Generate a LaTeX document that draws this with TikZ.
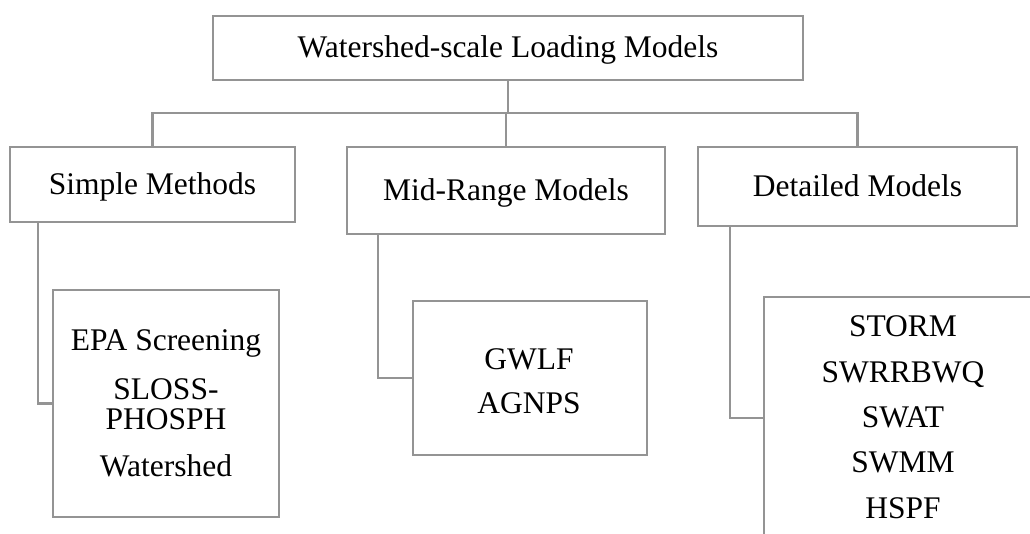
\documentclass[tikz,border=0pt]{standalone}
\usepackage{fontspec}
\setmainfont{Liberation Serif}
\definecolor{lg}{RGB}{148,148,148}
\begin{document}
\begin{tikzpicture}[x=1pt,y=-1pt,
  box/.style={draw=lg,line width=2.2pt,rectangle,inner sep=0pt,fill=white},
  lbl/.style={anchor=base,inner sep=0pt,font=\fontsize{31.5}{36}\selectfont},
  link/.style={draw=lg,line width=2.2pt}]
\useasboundingbox (0,0) rectangle (1030,534);
\clip (0,0) rectangle (1030,534);
% boxes
\node[box,minimum width=590pt,minimum height=64pt] (top) at (508,48) {};
\node[box,minimum width=285pt,minimum height=75pt] (simple) at (152.5,184.5) {};
\node[box,minimum width=318pt,minimum height=87pt] (mid) at (506,190.5) {};
\node[box,minimum width=319pt,minimum height=79pt] (det) at (857.5,186.5) {};
\node[box,minimum width=226pt,minimum height=227pt] (slist) at (166,403.5) {};
\node[box,minimum width=234pt,minimum height=154pt] (mlist) at (530,378) {};
\node[box,minimum width=320pt,minimum height=242pt] (dlist) at (924,418) {};
% connectors
\coordinate (bus) at (508,113);
\draw[link] (top.south) -- (bus);
\draw[link] (simple.north) |- (bus) -| (det.north);
\draw[link] (mid.north) -- (mid.north |- bus);
\draw[link] ([xshift=29pt]simple.south west) |- (slist.west);
\draw[link] ([xshift=32pt]mid.south west) |- (mlist.west);
\draw[link] ([xshift=33pt]det.south west) |- (dlist.west);
% labels
\node[lbl] (ttop) at (508,58) {Watershed-scale Loading Models};
\node[lbl] (tsimple) at (152.5,195) {Simple Methods};
\node[lbl] (tmid) at (506,200.5) {Mid-Range Models};
\node[lbl] (tdet) at (857.5,197) {Detailed Models};
\node[lbl] (s1) at (166,351) {EPA Screening};
\node[lbl] (s2) at (166,399) {SLOSS-};
\node[lbl] (s3) at (166,429) {PHOSPH};
\node[lbl] (s4) at (166,476) {Watershed};
\node[lbl] (m1) at (529,369) {GWLF};
\node[lbl] (m2) at (529,413) {AGNPS};
\node[lbl] (d1) at (903,337) {STORM};
\node[lbl] (d2) at (903,382) {SWRRBWQ};
\node[lbl] (d3) at (903,427) {SWAT};
\node[lbl] (d4) at (903,472) {SWMM};
\node[lbl] (d5) at (903,518) {HSPF};
\end{tikzpicture}
\end{document}
